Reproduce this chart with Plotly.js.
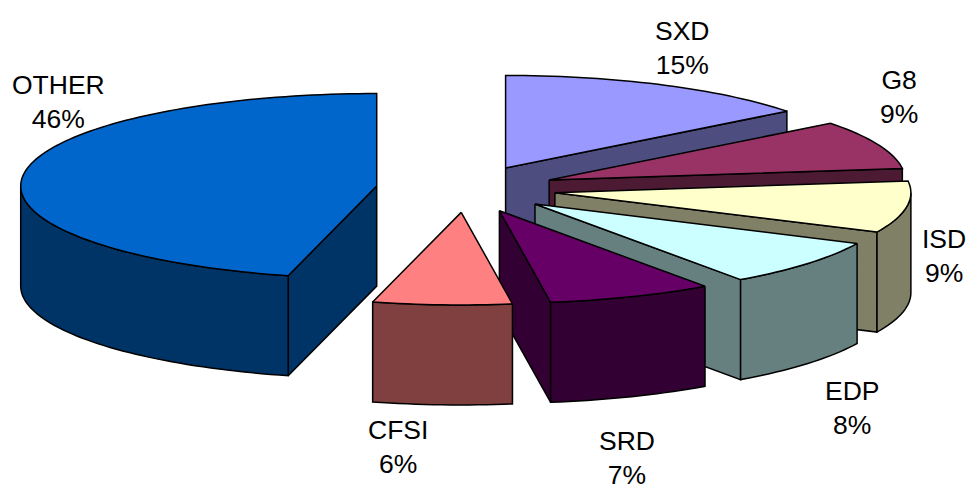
<!DOCTYPE html>
<html>
<head>
<meta charset="utf-8">
<script src="https://cdn.plot.ly/plotly-3.0.1.min.js"></script>
<style>html,body{margin:0;padding:0;background:#fff}#chart{width:966px;height:490px}</style>
</head>
<body>
<div id="chart"></div>
<script>
// Data, clockwise from 12 o'clock
var categories = ["SXD", "G8", "ISD", "EDP", "SRD", "CFSI", "OTHER"];
var sliceShares = [14.5, 8.5, 9, 8.2, 7.5, 6.3, 46];
var percentLabels = ["15%", "9%", "9%", "8%", "7%", "6%", "46%"];

// Styles
var topColors = ["#9999FF", "#993366", "#FFFFCC", "#CCFFFF", "#660066", "#FF8080", "#0066CC"];
var sideColors = ["#4D4D80", "#4D1A33", "#808066", "#668080", "#330033", "#804040", "#003366"];

// Back-to-front painting order (indexes into categories)
var drawOrder = [6, 0, 1, 2, 3, 4, 5];

// Label placement, pixel space
var labelX = [682, 899, 944, 852, 627, 398, 58];
var labelY = [48, 97, 256, 408, 458, 447, 102];

// Pie projection settings
var cx = 466, cy = 189, rx = 356, tilt = 0.26, depth = 100, explode = 90;
var ry = rx * tilt;
var rad = Math.PI / 180;

function arc(ox, oy, a0, a1, dy) {
  var xs = [], ys = [], n = Math.max(2, Math.ceil(Math.abs(a1 - a0) / 1.5));
  for (var i = 0; i <= n; i++) {
    var a = (a0 + (a1 - a0) * i / n) * rad;
    xs.push(ox + rx * Math.sin(a));
    ys.push(oy - ry * Math.cos(a) + dy);
  }
  return {x: xs, y: ys};
}

function poly(xs, ys, color) {
  return {
    type: "scatter", mode: "lines", x: xs.concat([xs[0]]), y: ys.concat([ys[0]]),
    fill: "toself", fillcolor: color,
    line: {color: "#000000", width: 1.5, simplify: false},
    hoverinfo: "skip", showlegend: false
  };
}

function cutFace(ox, oy, a, color) {
  var p = arc(ox, oy, a, a, 0);
  return poly([ox, p.x[0], p.x[0], ox], [oy, p.y[0], p.y[0] + depth, oy + depth], color);
}

var total = sliceShares.reduce(function (s, v) { return s + v; }, 0);
var starts = [], acc = 0;
sliceShares.forEach(function (v) { starts.push(acc / total * 360); acc += v; });

var traces = [];
drawOrder.forEach(function (k) {
  var a0 = starts[k], a1 = a0 + sliceShares[k] / total * 360;
  var mid = (a0 + a1) / 2 * rad;
  var ox = cx + explode * Math.sin(mid);
  var oy = cy - explode * tilt * Math.cos(mid);
  var side = sideColors[k];

  if (Math.sin(a0 * rad) < -1e-6) traces.push(cutFace(ox, oy, a0, side));
  if (Math.sin(a1 * rad) > 1e-6) traces.push(cutFace(ox, oy, a1, side));

  var w0 = Math.max(a0, 90), w1 = Math.min(a1, 270);
  if (w1 > w0) {
    var up = arc(ox, oy, w0, w1, 0), low = arc(ox, oy, w1, w0, depth);
    traces.push(poly(up.x.concat(low.x), up.y.concat(low.y), side));
  }

  var rim = arc(ox, oy, a0, a1, 0);
  traces.push(poly([ox].concat(rim.x), [oy].concat(rim.y), topColors[k]));
});

var annotations = categories.map(function (name, i) {
  return {
    x: labelX[i], y: labelY[i], xref: "x", yref: "y",
    text: name + "<br>" + percentLabels[i],
    showarrow: false, xanchor: "center", yanchor: "middle", align: "center",
    font: {family: "Liberation Sans, Arial, sans-serif", size: 26.5, color: "#000000"}
  };
});

var layout = {
  width: 966, height: 490,
  margin: {l: 0, r: 0, t: 0, b: 0},
  paper_bgcolor: "#FFFFFF", plot_bgcolor: "#FFFFFF",
  showlegend: false,
  xaxis: {range: [0, 966], visible: false, fixedrange: true},
  yaxis: {range: [490, 0], visible: false, fixedrange: true},
  annotations: annotations
};

Plotly.newPlot("chart", traces, layout, {displayModeBar: false, staticPlot: true});
</script>
</body>
</html>
